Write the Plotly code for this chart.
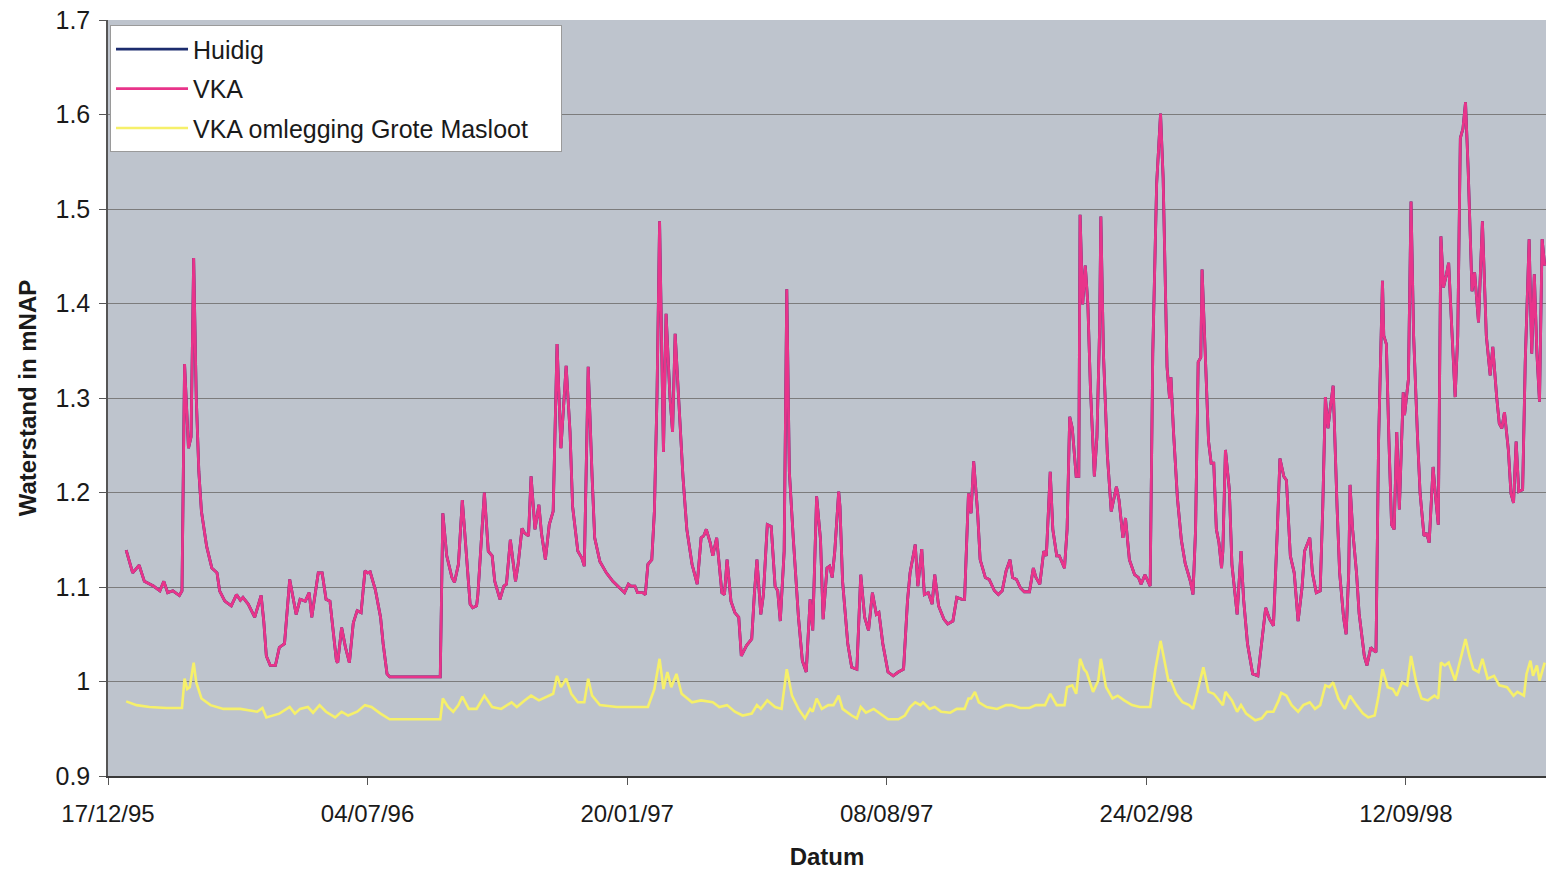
import datetime as dt
import plotly.graph_objects as go

start = dt.date(1995, 12, 17)

# ---- data (day offsets from 17/12/95, water level in m NAP) ----
vka_day = [14,19,24,28,35,40,43,46,50,55,57,59,62,64,66,68,70,72,76,80,84,86,90,95,99,102,104,108,113,118,120,122,125,129,132,136,140,
145,148,152,155,157,162,165,168,171,176,177,180,183,186,189,192,195,198,200,202,206,210,212,215,217,256,258,261,265,267,270,273,276,
279,281,284,285,290,293,296,298,302,305,307,310,314,316,319,321,324,326,329,332,334,337,340,343,346,349,351,353,356,358,362,365,367,370,373,375,379,384,389,394,398,401,403,406,408,412,
414,416,419,421,423,425,427,428,430,433,435,437,440,443,446,450,454,457,459,461,464,466,469,473,475,477,480,483,486,488,492,496,498,500,503,505,508,511,514,516,518,521,523,525,528,532,535,538,541,543,546,549,
551,554,556,558,560,563,564,566,570,573,577,580,583,586,589,592,594,597,601,605,609,613,616,618,622,624,627,629,632,635,637,640,644,647,651,654,658,660,663,665,667,670,672,676,679,683,686,689,692,695,
697,700,703,706,710,713,715,718,721,723,726,728,731,733,737,739,741,743,746,748,749,751,753,755,757,760,762,764,765,767,770,773,777,779,782,784,787,791,794,796,799,803,805,808,811,813,816,818,819,821,824,827,
830,834,836,838,840,842,843,845,848,850,852,854,856,858,859,861,864,866,870,873,875,878,882,886,889,892,895,898,901,903,906,908,911,914,917,920,922,926,928,931,934,936,938,940,942,944,947,949,952,954,956,957,959,962,964,968,970,
973,975,977,979,982,983,985,987,989,991,993,995,998,999,1002,1004,1006,1009,1011,1014,1016,1018,1021,1023,1025,1027,1029,1031,1033,1035,1038,1040,1042,1044,1046,1048,1051,1053,1056,1059,1062,1065,1067,1070,1072,1074,1076,1079,1081,1083,1085,1087,1090,1092,1095,1097,1099,1101,1103,1105,1107]
vka_val = [1.139,1.115,1.123,1.106,1.101,1.096,1.106,1.094,1.096,1.091,1.096,1.336,1.247,1.259,1.448,1.301,1.222,1.18,1.143,1.120,1.115,1.096,1.085,1.080,1.092,1.086,1.089,1.082,1.068,1.091,1.064,1.027,1.017,1.017,1.036,1.040,1.108,
1.071,1.087,1.085,1.094,1.068,1.115,1.115,1.087,1.085,1.022,1.020,1.057,1.036,1.020,1.062,1.075,1.073,1.117,1.115,1.116,1.097,1.068,1.040,1.008,1.005,1.005,1.178,1.133,1.110,1.105,1.124,1.192,1.138,
1.082,1.078,1.080,1.092,1.200,1.138,1.133,1.106,1.087,1.101,1.103,1.150,1.106,1.124,1.162,1.157,1.154,1.217,1.161,1.187,1.157,1.129,1.166,1.180,1.357,1.247,1.292,1.334,1.264,1.185,1.138,1.131,1.122,1.333,1.217,1.152,1.127,1.115,1.106,1.099,1.094,1.103,1.101,1.101,1.094,1.094,
1.092,1.124,1.129,1.180,1.301,1.487,1.347,1.243,1.389,1.301,1.264,1.368,1.292,1.217,1.161,1.124,1.103,1.152,1.154,1.161,1.147,1.133,1.152,1.094,1.092,1.129,1.085,1.073,1.068,1.027,1.038,1.045,1.092,1.129,1.071,1.092,1.166,1.164,1.101,1.096,1.064,1.138,1.415,1.222,1.152,1.068,1.022,1.010,1.087,1.054,1.196,1.150,
1.066,1.120,1.122,1.110,1.138,1.201,1.185,1.106,1.040,1.015,1.013,1.113,1.068,1.054,1.094,1.071,1.073,1.040,1.010,1.006,1.010,1.013,1.085,1.115,1.145,1.101,1.140,1.092,1.094,1.082,1.113,1.080,1.066,1.061,1.064,1.089,1.087,1.087,1.199,1.178,1.233,1.180,1.129,1.110,1.108,1.096,1.092,1.096,1.117,1.129,
1.110,1.108,1.099,1.095,1.095,1.120,1.110,1.103,1.138,1.133,1.222,1.161,1.133,1.133,1.120,1.161,1.280,1.268,1.217,1.217,1.494,1.399,1.440,1.399,1.310,1.217,1.259,1.371,1.492,1.347,1.240,1.180,1.206,1.192,1.152,1.173,1.129,1.113,1.110,1.103,1.113,1.101,1.347,1.527,1.601,1.533,1.333,1.299,1.322,1.264,1.194,1.150,
1.125,1.106,1.092,1.161,1.338,1.343,1.436,1.366,1.254,1.231,1.231,1.161,1.147,1.120,1.138,1.245,1.203,1.124,1.071,1.138,1.087,1.040,1.008,1.006,1.040,1.078,1.066,1.059,1.161,1.236,1.217,1.213,1.133,1.115,1.064,1.099,1.138,1.152,1.115,1.094,1.096,1.185,1.301,1.268,1.292,1.313,1.185,1.115,1.068,1.050,1.115,1.208,1.161,1.115,1.072,1.027,1.017,
1.036,1.033,1.031,1.254,1.424,1.366,1.357,1.254,1.166,1.161,1.264,1.182,1.306,1.282,1.320,1.508,1.366,1.259,1.199,1.154,1.157,1.147,1.227,1.194,1.166,1.471,1.417,1.429,1.443,1.385,1.301,1.366,1.575,1.585,1.613,1.543,1.413,1.433,1.380,1.487,1.366,1.324,1.354,1.301,1.273,1.268,1.285,1.245,1.199,1.189,1.254,1.201,1.203,1.338,1.468,1.347,1.431,1.347,1.296,1.468,1.440]

# "Huidig" is not visible in the picture: it lies exactly under the VKA line
huidig_day = vka_day
huidig_val = vka_val

oml_day = [14,22,32,45,57,59,61,63,66,68,72,79,89,102,115,119,122,132,140,144,148,154,158,163,168,175,180,185,192,198,203,210,217,256,258,262,266,270,273,278,284,290,296,303,311,315,321,326,332,339,343,346,349,353,357,362,367,370,373,379,392,405,416,
421,425,428,431,434,438,442,450,457,466,471,477,483,489,496,500,503,508,514,519,523,527,532,537,541,543,546,550,555,559,563,566,573,577,580,584,590,595,601,609,614,618,622,626,628,633,637,642,649,654,660,663,665,668,671,677,685,692,
696,703,710,715,722,726,731,737,739,743,746,749,752,754,759,763,765,769,774,778,783,789,795,803,807,811,814,817,819,823,828,833,836,840,844,848,852,855,859,861,866,870,873,877,884,889,893,898,902,904,908,912,917,921,926,930,934,938,941,944,948,953,957,962,967,971,
976,979,982,986,990,993,997,1001,1004,1008,1012,1017,1022,1025,1027,1030,1033,1038,1042,1046,1049,1052,1056,1059,1063,1068,1072,1078,1083,1086,1091,1093,1096,1098,1101,1103,1107]
oml_val = [0.979,0.975,0.973,0.972,0.972,1.003,0.992,0.994,1.020,0.999,0.982,0.975,0.971,0.971,0.968,0.972,0.962,0.966,0.973,0.966,0.971,0.973,0.967,0.975,0.968,0.962,0.968,0.964,0.968,0.975,0.973,0.966,0.960,0.960,0.982,0.973,0.968,0.975,0.984,0.971,0.971,0.985,0.973,0.971,0.978,0.973,0.980,0.985,0.980,0.985,0.987,1.006,0.994,1.003,0.987,0.978,0.978,1.003,0.985,0.975,0.973,0.973,0.973,
0.992,1.024,0.992,1.010,0.994,1.008,0.987,0.978,0.980,0.978,0.973,0.975,0.968,0.964,0.966,0.975,0.971,0.980,0.973,0.971,1.013,0.985,0.971,0.961,0.971,0.968,0.982,0.971,0.975,0.975,0.985,0.971,0.964,0.961,0.973,0.967,0.971,0.966,0.960,0.960,0.964,0.973,0.978,0.975,0.978,0.971,0.973,0.968,0.967,0.971,0.971,0.982,0.982,0.989,0.978,0.973,0.971,0.975,
0.975,0.972,0.972,0.975,0.975,0.987,0.975,0.975,0.994,0.996,0.987,1.024,1.013,1.010,0.989,1.001,1.024,0.994,0.982,0.985,0.980,0.975,0.973,0.973,1.013,1.043,1.020,1.001,1.001,0.987,0.978,0.975,0.971,0.994,1.015,0.989,0.987,0.982,0.975,0.989,0.980,0.968,0.975,0.966,0.959,0.961,0.968,0.968,0.980,0.988,0.985,0.975,0.968,0.975,0.978,0.971,0.975,0.996,0.994,0.999,0.982,0.971,0.985,0.975,0.966,0.962,
0.964,0.985,1.013,0.994,0.992,0.985,0.999,0.996,1.027,0.999,0.982,0.980,0.985,0.982,1.020,1.017,1.020,1.001,1.022,1.045,1.027,1.013,1.010,1.024,1.003,1.006,0.996,0.994,0.985,0.989,0.985,1.008,1.022,1.006,1.017,1.001,1.020]

tick_days = [0, 200, 400, 600, 800, 1000]
x_end_day = 1108
y_ticks = [0.9, 1.0, 1.1, 1.2, 1.3, 1.4, 1.5, 1.6, 1.7]
y_labels = ["0.9", "1", "1.1", "1.2", "1.3", "1.4", "1.5", "1.6", "1.7"]
series_names = ["Huidig", "VKA", "VKA omlegging Grote Masloot"]


def to_dates(days):
    return [start + dt.timedelta(days=d) for d in days]


fig = go.Figure()
fig.add_trace(go.Scatter(x=to_dates(huidig_day), y=huidig_val, mode="lines", name=series_names[0],
                         line=dict(color="#1c2c6e", width=2.8), legendgroup="a"))
fig.add_trace(go.Scatter(x=to_dates(vka_day), y=vka_val, mode="lines", name=series_names[1],
                         line=dict(color="#e8348a", width=2.8), legendgroup="b"))
fig.add_trace(go.Scatter(x=to_dates(oml_day), y=oml_val, mode="lines",
                         name=series_names[2] + "\u00a0\u00a0\u00a0\u00a0",
                         line=dict(color="#f6f06a", width=2.6), legendgroup="c"))

font_main = "Liberation Sans, Arial, sans-serif"

fig.update_layout(
    width=1546, height=873,
    margin=dict(l=108, r=0, t=20, b=97),
    paper_bgcolor="white",
    plot_bgcolor="#bec4cd",
    font=dict(family=font_main, size=25, color="#1a1a1a"),
    showlegend=True,
    legend=dict(x=0.0014, y=0.993, xanchor="left", yanchor="top",
                bgcolor="white", bordercolor="#9a9a9a", borderwidth=1,
                font=dict(family=font_main, size=25, color="#1a1a1a"),
                tracegroupgap=4, traceorder="grouped", itemwidth=72),
    xaxis=dict(
        type="date",
        range=[start, start + dt.timedelta(days=x_end_day)],
        tickvals=to_dates(tick_days),
        tickformat="%d/%m/%y",
        ticks="outside", ticklen=7, tickcolor="#555555",
        showgrid=False, zeroline=False,
        showline=True, linecolor="#3a3a3a", linewidth=1.5,
        tickfont=dict(family=font_main, size=24, color="#1a1a1a"),
        ticklabelstandoff=8,
        title=dict(text="<b>Datum</b>", font=dict(family=font_main, size=24, color="#1a1a1a"), standoff=23),
    ),
    yaxis=dict(
        range=[0.9, 1.7],
        tickvals=y_ticks, ticktext=y_labels,
        ticks="outside", ticklen=7, tickcolor="#555555",
        showgrid=True, gridcolor="#7c7c7c", gridwidth=1,
        zeroline=False,
        showline=True, linecolor="#555555", linewidth=1.5,
        tickfont=dict(family=font_main, size=25, color="#1a1a1a"),
        ticklabelstandoff=4,
        title=dict(text="<b>Waterstand in mNAP</b>", font=dict(family=font_main, size=24, color="#1a1a1a"), standoff=12),
    ),
)

fig.write_html("out.html")
